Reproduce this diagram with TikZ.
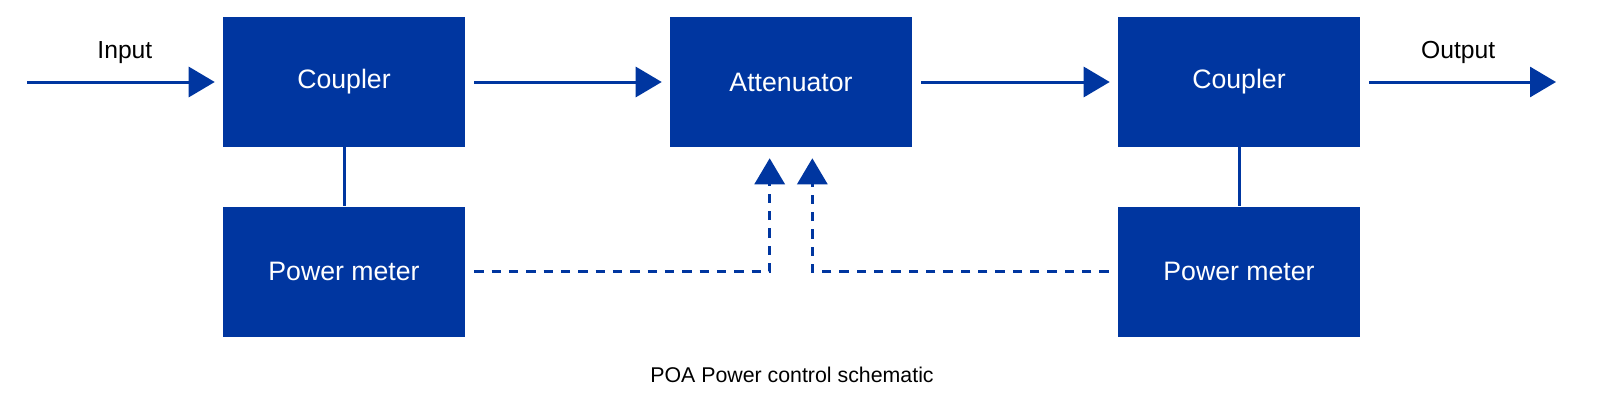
\documentclass[tikz,border=0pt]{standalone}
\usepackage{fontspec}
\setmainfont{Liberation Sans}
\usepackage{tikz}
\usepackage{color}
\usetikzlibrary{arrows.meta, positioning}
\definecolor{poablue}{RGB}{0,54,160}
\tikzstyle{block} = [rectangle, fill=poablue, text=white, minimum width=181.5pt, minimum height=97.5pt, inner sep=0pt, font=\fontsize{20}{24}\selectfont]
\tikzstyle{arrow} = [draw=poablue, line width=2.25pt, -{Triangle[length=19.5pt,width=22.5pt]}]
\tikzstyle{link} = [draw=poablue, line width=2.25pt]
\tikzstyle{ctrl} = [draw=poablue, line width=2.25pt, dash pattern=on 7pt off 6pt, -{Triangle[length=19.5pt,width=22.5pt]}]
\tikzstyle{io} = [font=\fontsize{18.5}{22}\selectfont, text=black]

\begin{document}
\begin{tikzpicture}[x=0.75pt, y=-0.75pt]
\useasboundingbox (0,0) rectangle (1599,414);
\node[block] (cpl1) at (344,82) {Coupler};
\node[block] (att) at (791,82) {Attenuator};
\node[block] (cpl2) at (1239,82) {Coupler};
\node[block] (pm1) at (344,271.5) {Power meter};
\node[block] (pm2) at (1239,271.5) {Power meter};
\coordinate (in) at (27,82);
\coordinate (out) at (1556,82);
\draw[arrow, shorten >=6pt] (in) -- node[io, above=9pt] (inlabel) {Input} (cpl1.west);
\draw[arrow, shorten <=6.75pt, shorten >=6pt] (cpl1.east) -- (att.west);
\draw[arrow, shorten <=6.75pt, shorten >=6pt] (att.east) -- (cpl2.west);
\draw[arrow, shorten <=6.75pt] (cpl2.east) -- node[io, above=9pt] (outlabel) {Output} (out);
\draw[link] (cpl1.south) -- (pm1.north);
\draw[link] (cpl2.south) -- (pm2.north);
\draw[ctrl, shorten <=6.75pt, shorten >=8.25pt] (pm1.east) -| ([xshift=-16pt]att.south);
\draw[ctrl, shorten <=6.75pt, shorten >=8.25pt] (pm2.west) -| ([xshift=16pt]att.south);
\node[font=\fontsize{16}{19}\selectfont] (caption) at (792,375) {POA Power control schematic};
\end{tikzpicture}
\end{document}
